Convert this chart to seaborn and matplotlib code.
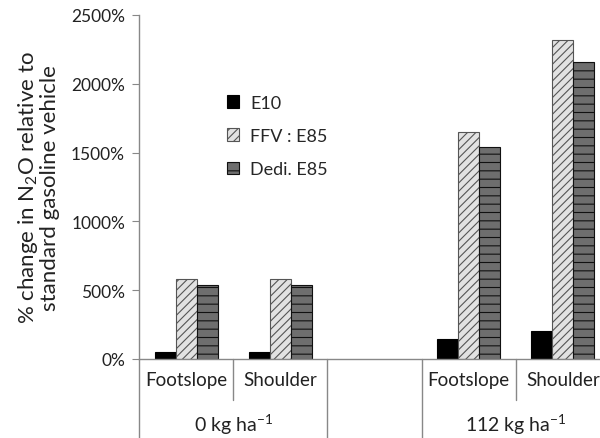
import seaborn as sns
import pandas as pd
import matplotlib.pyplot as plt
from matplotlib.ticker import FuncFormatter
import matplotlib.transforms as mtransforms

# values (% change in N2O)
slots = ["0-Footslope", "0-Shoulder", "gap", "112-Footslope", "112-Shoulder"]
slot_labels = ["Footslope", "Shoulder", "", "Footslope", "Shoulder"]
groups = ["0 kg ha$^{-1}$", "112 kg ha$^{-1}$"]
fuels = ["E10", "FFV : E85", "Dedi. E85"]
e10 = [50, 50, 145, 200]
ffv = [580, 580, 1650, 2315]
dedi = [540, 540, 1540, 2160]

data_slots = ["0-Footslope", "0-Shoulder", "112-Footslope", "112-Shoulder"]
rows = []
for i, s in enumerate(data_slots):
    rows.append((s, fuels[0], e10[i]))
    rows.append((s, fuels[1], ffv[i]))
    rows.append((s, fuels[2], dedi[i]))
df = pd.DataFrame(rows, columns=["slot", "fuel", "value"])

sns.set_style("white")
plt.rcParams['font.family'] = ['Lato', 'DejaVu Sans']
plt.rcParams['mathtext.fontset'] = 'custom'
plt.rcParams['mathtext.rm'] = 'Lato'
plt.rcParams['mathtext.it'] = 'Lato:italic'
plt.rcParams['hatch.linewidth'] = 0.8

fig = plt.figure(figsize=(6, 4.39), dpi=100)
ax = fig.add_axes([139/600, 79/439, 471/600, 344/439])

sns.barplot(data=df, x="slot", y="value", hue="fuel", order=slots, hue_order=fuels,
            palette=["black", "#e2e2e2", "#6e6e6e"], width=0.67, ax=ax,
            saturation=1, legend=False)

hatches = ["", "////", "--"]
edges = ["black", "#555555", "#111111"]
for cont, h, ec in zip(ax.containers, hatches, edges):
    for p in cont.patches:
        p.set_hatch(h)
        p.set_edgecolor(ec)
        p.set_linewidth(0.8)

ax.set_xlim(-0.5, 4.5)
ax.set_ylim(0, 2500)
ax.set_yticks(range(0, 2501, 500))
ax.yaxis.set_major_formatter(FuncFormatter(lambda v, pos: f"{int(v)}%"))
ax.tick_params(axis='y', left=True, length=5, color="#888888", labelsize=12.5,
               labelcolor="#222222", pad=5)
ax.set_xticks([])
ax.set_xlabel("")
for side in ["top", "right"]:
    ax.spines[side].set_visible(False)
for side in ["left", "bottom"]:
    ax.spines[side].set_color("#888888")
    ax.spines[side].set_linewidth(1)

ax.set_ylabel("% change in N$_2$O relative to\nstandard gasoline vehicle",
              fontsize=16, color="#222222", labelpad=8, linespacing=1.0)

# category axis below the plot
trans = mtransforms.blended_transform_factory(ax.transData, ax.transAxes)
ax.plot([-0.5, -0.5], [0, -0.25], transform=trans, color="#888888", lw=1, clip_on=False)
for x, depth in [(0.5, -0.12), (1.5, -0.25), (2.5, -0.25), (3.5, -0.12)]:
    ax.plot([x, x], [0, depth], transform=trans, color="#888888", lw=1, clip_on=False)
for i, lab in enumerate(slot_labels):
    ax.text(i, -0.061, lab, transform=trans, ha="center", va="center",
            fontsize=13.5, color="#222222")
for x, g in zip([0.5, 3.5], groups):
    ax.text(x, -0.19, g, transform=trans, ha="center", va="center",
            fontsize=14, color="#222222")

handles = [c.patches[0] for c in ax.containers]
ax.legend(handles, fuels, loc="upper left", bbox_to_anchor=(0.152, 0.815),
          frameon=False, handlelength=0.7, handleheight=0.7, handletextpad=0.6,
          labelspacing=0.95, fontsize=13)

fig.savefig("out.png", dpi=100)
